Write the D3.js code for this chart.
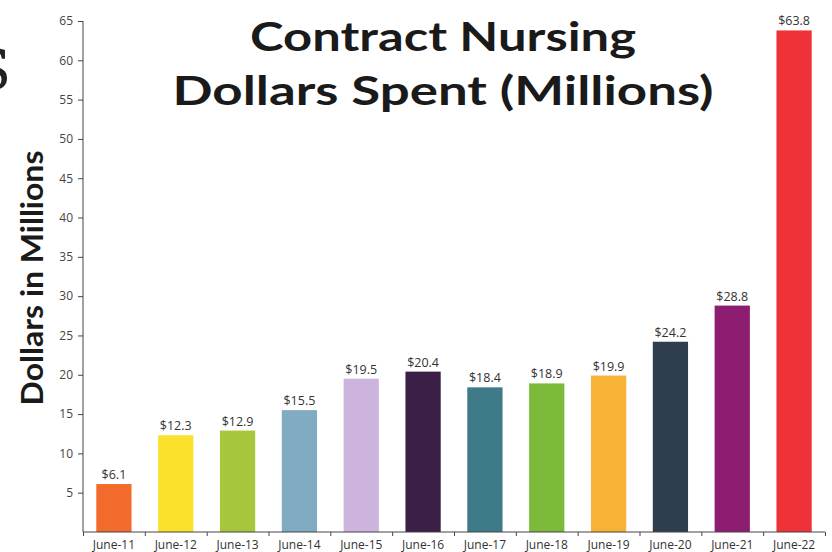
<!DOCTYPE html>
<html>
<head>
<meta charset="utf-8">
<script src="https://cdn.jsdelivr.net/npm/d3@7"></script>
<style>
  html, body { margin: 0; padding: 0; background: #fff; }
  svg { display: block; }
</style>
</head>
<body>
<svg id="chart" width="832" height="552"></svg>
<script>
const categories = ["June-11","June-12","June-13","June-14","June-15","June-16","June-17","June-18","June-19","June-20","June-21","June-22"];
const values = [6.1, 12.3, 12.9, 15.5, 19.5, 20.4, 18.4, 18.9, 19.9, 24.2, 28.8, 63.8];
const valueLabels = ["$6.1","$12.3","$12.9","$15.5","$19.5","$20.4","$18.4","$18.9","$19.9","$24.2","$28.8","$63.8"];
const barColors = ["#f36b2c","#fbe12b","#a5c63d","#80abc2","#cdb4de","#3b1f47","#3e7a87","#7cba3b","#f8b236","#2f3e4f","#8c1d70","#ee3338"];
const yTicks = [5,10,15,20,25,30,35,40,45,50,55,60,65];
const titleLines = ["Contract Nursing", "Dollars Spent (Millions)"];
const yAxisTitle = "Dollars in Millions";

const svg = d3.select("#chart");
const mLeft = 83, mRight = 825, mTop = 21, mBottom = 532;

const x = d3.scaleBand().domain(categories).range([mLeft, mRight]).paddingInner(0.43).paddingOuter(0.215);
const y = d3.scaleLinear().domain([0, 65]).range([mBottom, mTop]);
const xb = d3.scaleLinear().domain([0, categories.length]).range([mLeft, mRight]);

// partial glyph at the left edge (fragment of neighbouring text in the source)
svg.append("text").attr("x", 11).attr("y", 89).attr("text-anchor", "end")
  .attr("font-family", "DejaVu Serif").attr("font-size", 56).attr("fill", "#222").text("S");

// bars
svg.append("g").selectAll("rect").data(values).join("rect")
  .attr("x", (d, i) => x(categories[i]))
  .attr("width", x.bandwidth())
  .attr("y", d => y(d))
  .attr("height", d => y(0) - y(d))
  .attr("fill", (d, i) => barColors[i]);

// value labels
svg.append("g").selectAll("text").data(values).join("text")
  .attr("x", (d, i) => x(categories[i]) + x.bandwidth() / 2)
  .attr("y", d => y(d) - 5)
  .attr("text-anchor", "middle")
  .attr("font-family", "Open Sans, sans-serif")
  .attr("font-size", 12.5)
  .attr("fill", "#333")
  .text((d, i) => valueLabels[i]);

// y axis
const yAxis = svg.append("g").attr("transform", `translate(${mLeft},0)`)
  .call(d3.axisLeft(y).tickValues(yTicks).tickSize(5).tickPadding(5).tickFormat(d3.format("d")));
yAxis.select(".domain").attr("d", `M0,${mTop}V${mBottom}`).attr("stroke", "#444");
yAxis.selectAll(".tick line").attr("stroke", "#444");
yAxis.selectAll("text").attr("font-family", "Open Sans, sans-serif").attr("font-size", 12).attr("fill", "#444");

// x axis boundary ticks
const xAxis = svg.append("g").attr("transform", `translate(0,${mBottom})`)
  .call(d3.axisBottom(xb).tickValues(d3.range(categories.length + 1)).tickSize(4).tickFormat(""));
xAxis.select(".domain").attr("d", `M${mLeft},0H${mRight}`).attr("stroke", "#444");
xAxis.selectAll(".tick line").attr("stroke", "#444");

// x labels
const xLab = svg.append("g").attr("transform", `translate(0,${mBottom})`)
  .call(d3.axisBottom(x).tickSize(0).tickPadding(8));
xLab.select(".domain").remove();
xLab.selectAll("text").attr("font-family", "Open Sans, sans-serif").attr("font-size", 12).attr("fill", "#333");

// helper: fit text to a target width by horizontal scaling
function fitText(cx, cy, rot, size, width, str) {
  const g = svg.append("g").attr("transform", `translate(${cx},${cy}) rotate(${rot})`);
  const t = g.append("text").attr("text-anchor", "middle")
    .attr("font-family", "Lato, sans-serif").attr("font-weight", "bold")
    .attr("font-size", size).attr("fill", "#1a1a1a").text(str);
  const len = t.node().getComputedTextLength();
  if (len > 0) t.attr("transform", `scale(${width / len},1)`);
  return t;
}

// title
fitText(443, 51, 0, 40, 386, titleLines[0]);
fitText(443, 105, 0, 40, 541, titleLines[1]);

// y axis title
fitText(43, 278, -90, 31, 255, yAxisTitle);
</script>
</body>
</html>
